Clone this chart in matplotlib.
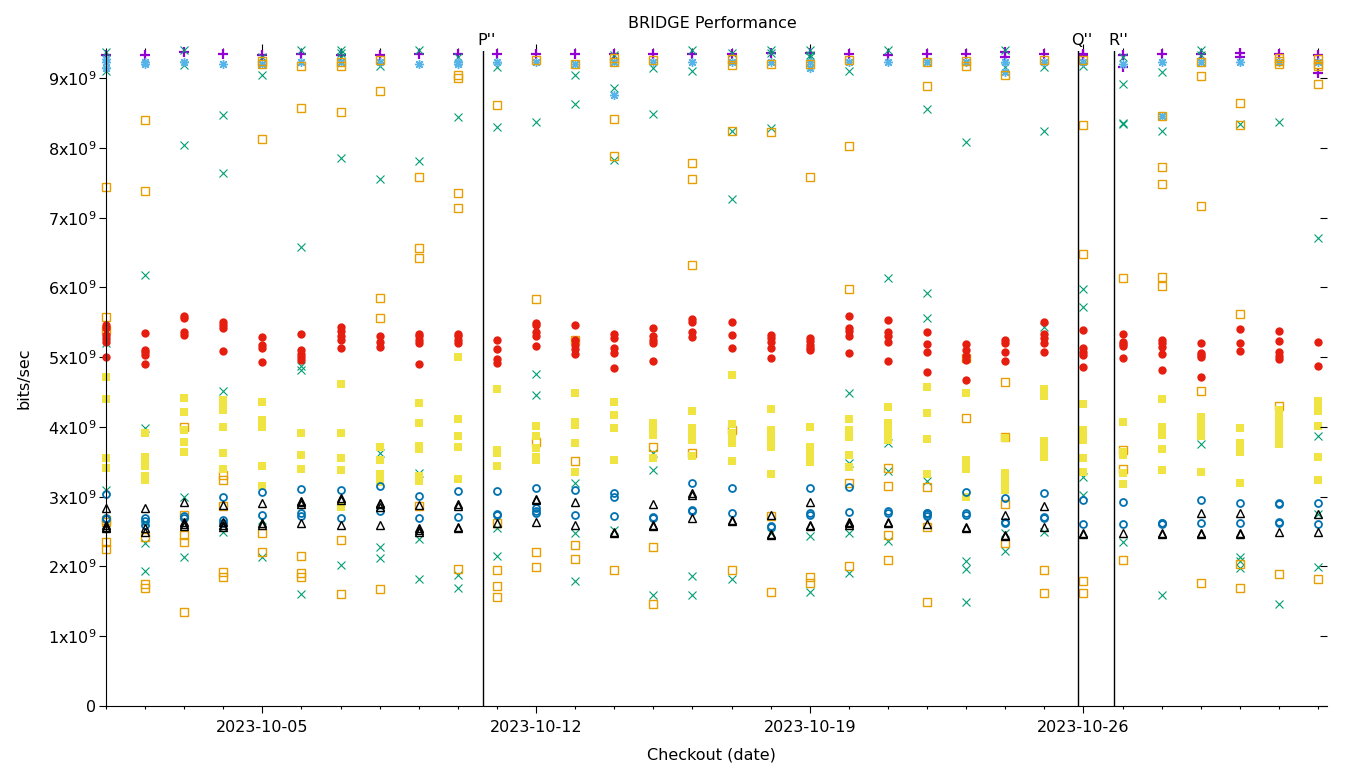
import numpy as np
import pandas as pd
import matplotlib
matplotlib.use("Agg")
import matplotlib.pyplot as plt
import matplotlib.dates as mdates
from matplotlib.ticker import FixedLocator, FuncFormatter

# checkout dates, one column of points per day
days = pd.date_range("2023-10-01", "2023-11-01", freq="D")

# values in units of 1e9 bits/sec, one list per checkout date
purple_plus = [
    [9.33], [9.33], [9.37], [9.34], [9.33], [9.34], [9.33], [9.33], [9.34], [9.34],
    [9.34], [9.34], [9.34], [9.34], [9.34], [9.34], [9.34], [9.36], [9.36], [9.34],
    [9.33], [9.34], [9.34], [9.37, 9.31], [9.34], [9.34, 9.33], [9.33, 9.16], [9.34],
    [9.34], [9.36, 9.31], [9.34], [9.33, 9.07],
]
green_x = [
    [9.37, 9.11, 5.20, 3.10], [6.18, 3.98, 2.64, 2.34, 1.93], [9.40, 9.19, 8.04, 3.00, 2.14],
    [8.47, 7.64, 4.51, 2.49], [9.31, 9.04, 2.67, 2.14], [9.40, 6.58, 4.88, 4.82, 1.60],
    [9.40, 9.36, 9.31, 7.85, 2.02], [9.17, 7.55, 3.62, 2.28, 2.12], [9.40, 7.81, 3.34, 2.39, 1.82],
    [9.30, 8.44, 1.88, 1.69], [9.16, 8.30, 2.55, 2.15], [8.37, 4.76, 4.46],
    [9.04, 8.63, 3.20, 2.48, 1.79], [9.33, 8.86, 7.83, 2.52], [9.14, 8.48, 3.62, 3.38, 1.59],
    [9.40, 9.11, 1.86, 1.59], [9.36, 8.24, 7.27, 1.82], [9.40, 9.36, 8.28, 2.48],
    [9.40, 9.33, 9.30, 2.44, 1.63], [9.11, 4.49, 3.48, 2.48, 1.91], [9.40, 6.13, 3.77, 3.37, 2.36],
    [8.56, 5.92, 5.56, 3.22], [8.08, 2.08, 1.96, 1.49], [9.40, 9.16, 2.48, 2.22],
    [9.16, 8.25, 5.44, 2.49], [9.17, 5.98, 5.72, 3.28, 3.02], [9.30, 8.91, 8.34, 8.36, 2.35],
    [9.09, 8.25, 1.59], [9.40, 9.33, 3.75], [8.34, 2.14, 2.08, 1.98], [8.37, 1.46],
    [6.71, 3.87, 2.75, 1.99],
]
lightblue_star = [
    [9.23, 9.14, 9.27], [9.23, 9.20], [9.23], [9.21], [9.21], [9.23], [9.23], [9.23],
    [9.21], [9.23, 9.20], [9.23], [9.23], [9.21], [9.23, 8.76], [9.23], [9.23], [9.23],
    [9.23], [9.23, 9.14], [9.23], [9.23], [9.23], [9.23], [9.23, 9.09], [9.23], [9.23],
    [9.21], [9.23, 8.46], [9.23], [9.23], [9.23], [9.23],
]
orange_square = [
    [7.44, 5.57, 5.39, 2.67, 2.64, 2.35, 2.25], [8.40, 7.38, 2.42, 1.75, 1.69],
    [4.00, 2.74, 2.45, 2.35, 1.35], [3.31, 3.24, 2.87, 1.92, 1.85], [9.24, 9.21, 8.13, 2.48, 2.21],
    [9.17, 8.58, 2.15, 1.90, 1.85], [9.23, 9.17, 8.51, 2.38, 1.61], [9.26, 8.81, 5.85, 5.56, 1.68],
    [7.58, 6.56, 6.42, 2.87], [9.04, 9.01, 7.35, 7.14, 1.96], [8.61, 2.62, 1.95, 1.72, 1.56],
    [9.26, 5.83, 3.78, 2.21, 1.99], [9.21, 5.24, 3.51, 2.31, 2.11], [9.29, 9.23, 8.41, 7.88, 1.95],
    [9.26, 3.71, 2.28, 1.46], [7.78, 7.55, 6.32, 3.62], [9.27, 9.19, 8.24, 3.96, 1.95],
    [9.20, 8.23, 2.72, 1.63], [9.21, 7.58, 1.85, 1.76], [9.26, 8.03, 5.98, 3.20, 2.01],
    [3.41, 3.15, 2.45, 2.09], [9.23, 8.89, 3.14, 2.57, 1.49], [9.24, 9.17, 4.99, 4.13],
    [9.04, 4.64, 3.86, 2.89, 2.34], [9.26, 1.95, 1.62], [9.26, 8.33, 6.48, 1.79, 1.62],
    [6.13, 3.67, 3.40, 2.09], [8.46, 7.72, 7.48, 6.15, 6.02], [9.23, 9.03, 7.17, 4.51, 1.76],
    [8.64, 8.33, 5.62, 2.03, 1.69], [9.29, 9.24, 9.20, 4.30, 1.89], [9.27, 9.20, 9.17, 8.91, 1.82],
]
yellow_square = [
    [4.71, 4.40, 3.55, 3.41], [3.91, 3.57, 3.50, 3.44, 3.30, 3.24], [4.41, 4.21, 3.96, 3.78, 3.64],
    [4.39, 4.30, 4.24, 4.00, 3.63, 3.40], [4.36, 4.10, 4.00, 3.44, 3.15], [3.91, 3.60, 3.40],
    [4.61, 3.91, 3.55, 3.38, 2.85], [3.71, 3.53, 3.32, 3.21], [4.34, 4.06, 3.73, 3.68, 3.30, 3.22],
    [5.00, 4.11, 3.87, 3.71, 3.25], [4.54, 3.67, 3.63, 3.44], [4.01, 3.87, 3.70, 3.57, 3.52],
    [4.48, 4.07, 4.03, 3.77, 3.35], [4.36, 4.17, 3.98, 3.53], [4.06, 3.97, 3.88, 3.55],
    [4.23, 3.98, 3.90, 3.81, 3.58], [4.75, 4.04, 3.91, 3.84, 3.77, 3.51],
    [4.26, 3.96, 3.86, 3.78, 3.71, 3.32], [4.00, 3.71, 3.64, 3.57, 3.50],
    [4.11, 3.96, 3.86, 3.60, 3.43], [4.28, 4.05, 3.95, 3.90, 3.81], [4.57, 4.20, 3.83, 3.32],
    [4.49, 3.52, 3.46, 3.40, 3.00], [3.84, 3.34, 3.27, 3.20, 3.10, 3.17],
    [4.54, 4.49, 4.44, 3.80, 3.72, 3.64, 3.57], [4.33, 3.96, 3.88, 3.81, 3.55, 3.35],
    [4.07, 3.64, 3.60, 3.34, 3.18], [4.40, 4.00, 3.88, 3.68, 3.38],
    [4.14, 4.07, 4.00, 3.93, 3.87, 3.35], [3.98, 3.77, 3.70, 3.64, 3.20],
    [4.24, 4.17, 4.10, 4.03, 3.95, 3.85, 3.75], [4.37, 4.30, 4.23, 4.01, 3.57, 3.24],
]
blue_circle = [
    [3.04, 2.68, 2.70], [2.70, 2.65, 2.60], [2.69, 2.72], [3.00, 2.67, 2.63], [3.07, 2.74],
    [3.11, 2.76, 2.73], [3.10, 2.70], [3.15, 2.80], [3.01, 2.69], [3.08, 2.71],
    [3.08, 2.75, 2.74], [3.12, 2.84, 2.80, 2.77], [3.10, 2.74], [3.05, 3.00, 2.72], [2.71, 2.69],
    [3.20, 2.81, 2.79], [3.12, 2.76], [2.58, 2.56], [3.12, 2.76, 2.74], [3.14, 2.78],
    [2.79, 2.77], [2.76, 2.75, 2.73, 2.77], [3.07, 2.76, 2.74], [2.98, 2.64, 2.62],
    [3.05, 2.71, 2.69], [2.95, 2.61], [2.92, 2.61], [2.62, 2.63, 2.61], [2.95, 2.62],
    [2.91, 2.62], [2.91, 2.90, 2.62, 2.64], [2.91, 2.61],
]
red_circle = [
    [5.46, 5.42, 5.32, 5.27, 5.22, 5.00], [5.35, 5.10, 5.07, 5.03, 4.90], [5.59, 5.56, 5.36, 5.32],
    [5.50, 5.46, 5.42, 5.09], [5.29, 5.17, 5.13, 4.93], [5.33, 5.10, 5.05, 5.00, 4.96],
    [5.43, 5.38, 5.30, 5.25, 5.13], [5.30, 5.22, 5.15], [5.34, 5.30, 5.25, 5.20, 4.90],
    [5.34, 5.30, 5.25, 5.20], [5.24, 5.12, 4.97, 4.92], [5.49, 5.46, 5.36, 5.30, 5.16],
    [5.46, 5.24, 5.18, 5.12, 5.04], [5.34, 5.27, 5.13, 5.06, 4.84], [5.42, 5.30, 5.25, 5.20, 4.94],
    [5.55, 5.50, 5.36, 5.29], [5.50, 5.32, 5.13], [5.32, 5.27, 5.22, 5.13, 4.99],
    [5.27, 5.23, 5.18, 5.13, 5.10], [5.59, 5.42, 5.38, 5.30, 5.06], [5.53, 5.36, 5.30, 5.22, 4.94],
    [5.36, 5.19, 5.07, 4.79], [5.19, 5.10, 5.02, 4.96, 4.67], [5.24, 5.20, 5.07, 4.94],
    [5.50, 5.34, 5.27, 5.20, 5.07], [5.39, 5.13, 5.08, 5.03, 4.86], [5.33, 5.22, 5.19, 5.16, 4.99],
    [5.24, 5.20, 5.14, 5.04, 4.82], [5.20, 5.06, 5.03, 5.00, 4.71], [5.40, 5.20, 5.09],
    [5.37, 5.23, 5.07, 5.02, 4.97], [5.22, 4.87],
]
black_triangle = [
    [2.84, 2.60, 2.57, 2.55], [2.84, 2.55, 2.50], [2.92, 2.64, 2.61, 2.58], [2.88, 2.64, 2.60, 2.57],
    [2.91, 2.63, 2.60], [2.94, 2.92, 2.90, 2.62], [2.98, 2.95, 2.60], [2.91, 2.89, 2.86, 2.60],
    [2.88, 2.55, 2.53, 2.50], [2.89, 2.87, 2.57, 2.55], [2.62], [2.97, 2.95, 2.64], [2.92, 2.60],
    [2.50, 2.48], [2.90, 2.60, 2.58], [3.05, 3.03, 2.69], [2.67, 2.65], [2.74, 2.47, 2.45],
    [2.92, 2.60, 2.58], [2.64, 2.62, 2.59], [2.64, 2.62], [2.61], [2.57, 2.55], [2.74, 2.45, 2.43],
    [2.87, 2.57], [2.48, 2.46], [2.48], [2.48, 2.46], [2.76, 2.48, 2.46], [2.76, 2.48, 2.46],
    [2.49], [2.75, 2.49],
]

# marked checkouts
events = ["2023-10-10 15:10", "2023-10-25 20:40", "2023-10-26 18:40"]
event_labels = ["P''", "Q''", "R''"]


def flatten(per_day):
    xs, ys = [], []
    for d, vals in zip(days, per_day):
        xs += [d] * len(vals)
        ys += vals
    return xs, np.array(ys) * 1e9


series = [
    (purple_plus, dict(marker="+", color="#9400d3", ms=6.5, mew=1.6)),
    (green_x, dict(marker="x", color="#009e73", ms=5.8, mew=0.8)),
    (lightblue_star, dict(marker=(8, 2, 0), color="#56b4e9", ms=6.5, mew=1.0)),
    (orange_square, dict(marker="s", color="#e69f00", mfc="none", ms=5.3, mew=1.0)),
    (yellow_square, dict(marker="s", color="#f0e442", ms=5.6, mew=0)),
    (blue_circle, dict(marker="o", color="#0072b2", mfc="none", ms=5.0, mew=1.3)),
    (red_circle, dict(marker="o", color="#e51e10", ms=6.0, mew=0)),
    (black_triangle, dict(marker="^", color="black", mfc="none", ms=6.2, mew=1.0)),
]

plt.rcParams["font.family"] = ["DejaVu Sans"]
fig = plt.figure(figsize=(13.6, 7.68), dpi=100)
ax = fig.add_axes([106 / 1360, 62 / 768, (1327 - 106) / 1360, (706 - 51) / 768])

for per_day, style in series:
    xs, ys = flatten(per_day)
    ax.plot(xs, ys, linestyle="none", clip_on=False, **style)

for ev, lab in zip(events, event_labels):
    xe = mdates.date2num(pd.Timestamp(ev))
    ax.axvline(xe, color="black", lw=1)
    ax.annotate(lab, xy=(xe, 1), xycoords=("data", "axes fraction"), xytext=(3, 2),
                textcoords="offset points", ha="center", va="bottom", fontsize=11.5)

ax.set_xlim(pd.Timestamp("2023-10-01 00:00"), pd.Timestamp("2023-11-01 05:30"))
ax.set_ylim(0, 9.39e9)

ax.xaxis.set_major_locator(mdates.DayLocator(bymonthday=[5, 12, 19, 26]))
ax.xaxis.set_major_formatter(mdates.DateFormatter("%Y-%m-%d"))
ax.xaxis.set_minor_locator(mdates.DayLocator())
yticks = np.arange(0, 10) * 1e9
ax.yaxis.set_major_locator(FixedLocator(yticks))
ax.yaxis.set_major_formatter(FuncFormatter(
    lambda v, pos: "0" if v == 0 else r"$\mathregular{%dx10^{9}}$" % round(v / 1e9)))

for s in ["top", "right"]:
    ax.spines[s].set_visible(False)
for s in ["left", "bottom"]:
    ax.spines[s].set_linewidth(0.8)

ax.tick_params(axis="both", which="major", direction="out", length=5, width=0.8, labelsize=11.5)
ax.tick_params(axis="x", which="minor", direction="out", length=2.5, width=0.8)
ax.tick_params(axis="x", which="both", top=True, pad=5)
ax.tick_params(axis="y", pad=2)

# mirrored y tics on the right, pointing inward
axr = ax.twinx()
axr.set_ylim(ax.get_ylim())
axr.yaxis.set_major_locator(FixedLocator(yticks))
axr.tick_params(axis="y", direction="in", length=5, width=0.8, labelright=False)
for s in axr.spines.values():
    s.set_visible(False)

fig.text(712 / 1360, 1 - 24 / 768, "BRIDGE Performance", ha="center", va="center", fontsize=11.5)
fig.text(711 / 1360, 1 - 755 / 768, "Checkout (date)", ha="center", va="center", fontsize=11.5)
fig.text(24 / 1360, 1 - 378 / 768, "bits/sec", ha="center", va="center", rotation=90, fontsize=11.5)

fig.savefig("out.png", dpi=100)
